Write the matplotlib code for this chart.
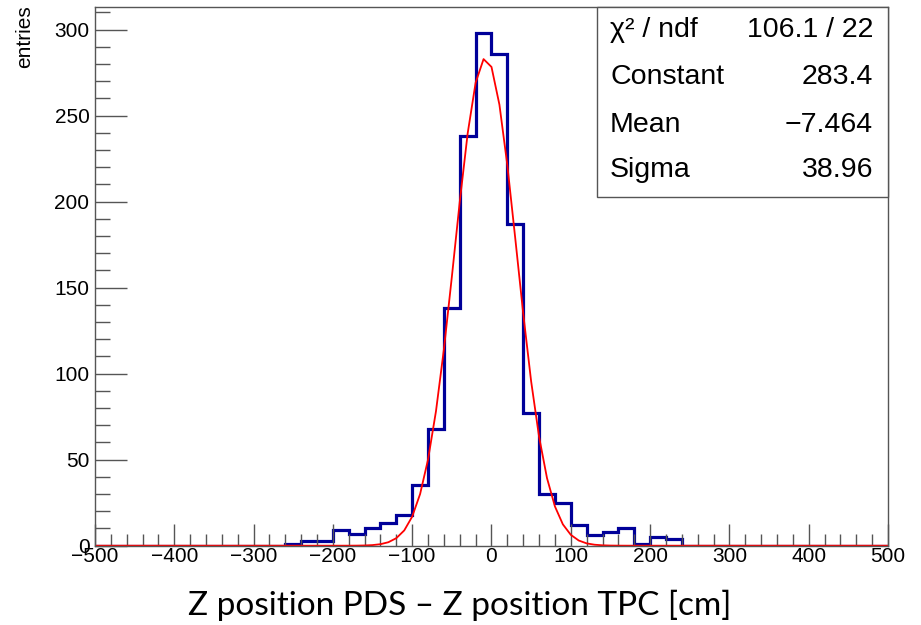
import matplotlib
matplotlib.use('Agg')
import matplotlib.pyplot as plt
import numpy as np
from matplotlib.ticker import MultipleLocator

# histogram: 50 bins of 20 cm from -500 to 500
edges = np.arange(-500, 501, 20)
counts = np.zeros(50)
# non-empty bins (left edge -> entries)
left_edges = [-260, -240, -220, -200, -180, -160, -140, -120, -100, -80, -60, -40, -20,
              0, 20, 40, 60, 80, 100, 120, 140, 160, 180, 200, 220]
entries = [1, 3, 3, 9, 7, 10, 13, 18, 35, 68, 138, 238, 298,
           286, 187, 77, 30, 25, 12, 6, 8, 10, 1, 5, 4]
for le, n in zip(left_edges, entries):
    counts[(le + 500) // 20] = n

# gaussian fit result
fit_constant = 283.4
fit_mean = -7.464
fit_sigma = 38.96
stat_names = ["χ² / ndf", "Constant", "Mean", "Sigma"]
stat_values = ["106.1 / 22", "283.4", "\u22127.464", "38.96"]

fig = plt.figure(figsize=(9.21, 6.25), dpi=100)
ax = fig.add_axes([0.1031, 0.1269, 0.8611, 0.8614])

ax.stairs(counts, edges, color='#000099', lw=2.3, baseline=0)
xf = np.linspace(-500, 500, 101)
yf = fit_constant * np.exp(-0.5 * ((xf - fit_mean) / fit_sigma) ** 2)
ax.plot(xf, yf, color='#ff0000', lw=1.3)

ax.set_xlim(-500, 500)
ax.set_ylim(0, 312.9)
ax.xaxis.set_major_locator(MultipleLocator(100))
ax.xaxis.set_minor_locator(MultipleLocator(20))
ax.yaxis.set_major_locator(MultipleLocator(50))
ax.yaxis.set_minor_locator(MultipleLocator(10))
ax.tick_params(axis='x', which='major', direction='in', length=16, width=1, color='#555555',
               labelsize=15, pad=1)
ax.tick_params(axis='x', which='minor', direction='in', length=9, width=1, color='#555555')
ax.tick_params(axis='y', which='major', direction='in', length=23, width=1, color='#555555',
               labelsize=15, pad=4)
ax.tick_params(axis='y', which='minor', direction='in', length=11, width=1, color='#555555')
for lab in ax.get_yticklabels():
    lab.set_family('Liberation Sans')
ax.set_xticks(np.arange(-500, 501, 100))
ax.set_xticklabels([str(v).replace('-', '\u2212') for v in range(-500, 501, 100)],
                   family='Liberation Sans')
for s in ax.spines.values():
    s.set_color('#555555')
    s.set_linewidth(1)

fig.text(0.027, 0.992, 'entries', rotation=90, ha='center', va='top',
         fontsize=15, family='Liberation Sans')

# stat box
box = plt.Rectangle((597 / 921, 1 - 197 / 625), (888 - 597) / 921, (197 - 7.3) / 625,
                    transform=fig.transFigure, facecolor='white', edgecolor='#555555', lw=1)
fig.add_artist(box)
rows_y = [30, 77, 125, 170]
for name, val, py in zip(stat_names, stat_values, rows_y):
    fig.text(610 / 921, 1 - py / 625, name, ha='left', va='center', fontsize=20.5,
             family='Liberation Sans')
    fig.text(873 / 921, 1 - py / 625, val, ha='right', va='center', fontsize=20.5,
             family='Liberation Sans')

fig.text(0.4995, 0.032, 'Z position PDS \u2013 Z position TPC [cm]', ha='center', va='center',
         fontsize=24, family='Lato')

fig.savefig('out.png', dpi=100)
